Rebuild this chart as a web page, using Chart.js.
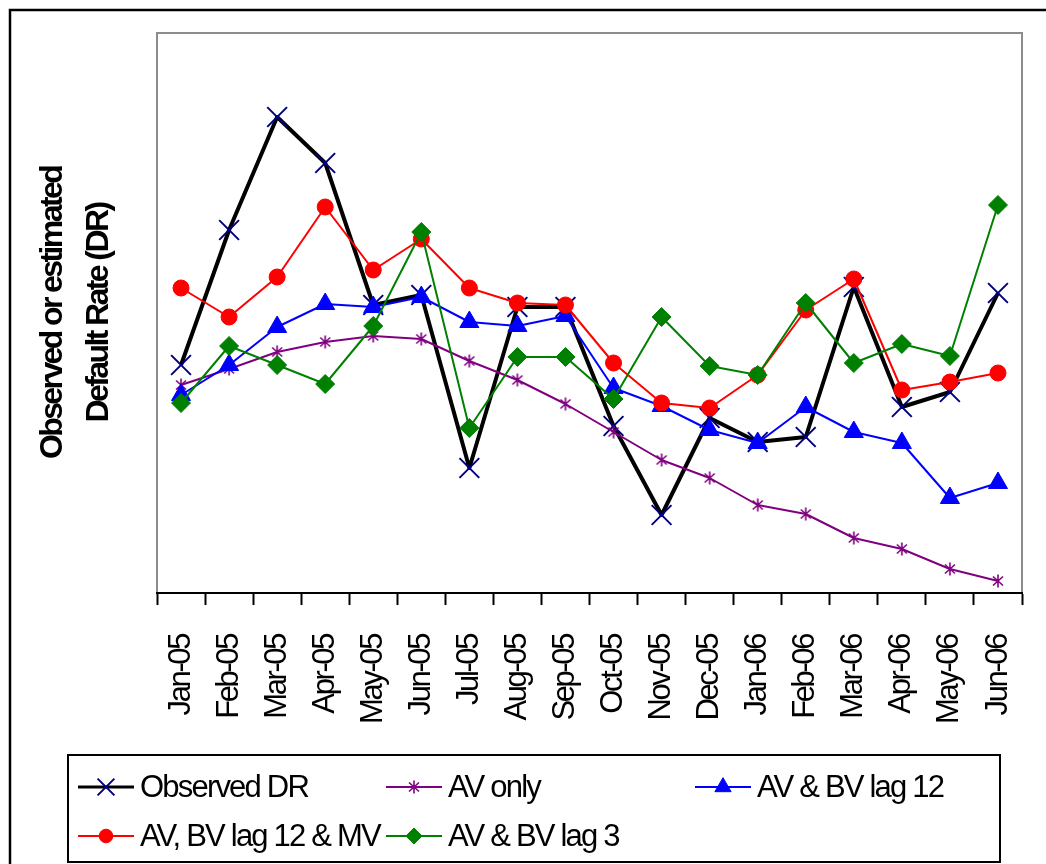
<!DOCTYPE html>
<html>
<head>
<meta charset="utf-8">
<title>Observed and estimated default rate</title>
<script src="https://cdn.jsdelivr.net/npm/chart.js@4"></script>
<style>
  html, body { margin: 0; padding: 0; background: #fff; }
  #wrap { width: 1046px; height: 864px; }
  canvas { display: block; }
</style>
</head>
<body>
<div id="wrap"><canvas id="dr" width="1046" height="864"></canvas></div>
<script>
// Monthly observation dates
const months = ['Jan-05','Feb-05','Mar-05','Apr-05','May-05','Jun-05','Jul-05','Aug-05','Sep-05',
                'Oct-05','Nov-05','Dec-05','Jan-06','Feb-06','Mar-06','Apr-06','May-06','Jun-06'];

// Default rate series (same arbitrary unit; the axis carries no tick labels)
const observedDR  = [1.14, 1.815, 2.38, 2.15, 1.44, 1.49, 0.625, 1.43, 1.43, 0.835, 0.39, 0.875, 0.755, 0.78, 1.53, 0.93, 1.005, 1.50];
const avOnly      = [1.04, 1.12, 1.205, 1.255, 1.285, 1.27, 1.16, 1.065, 0.945, 0.805, 0.665, 0.575, 0.44, 0.395, 0.275, 0.22, 0.12, 0.06];
const avBvLag12   = [0.99, 1.14, 1.33, 1.445, 1.43, 1.48, 1.355, 1.335, 1.385, 1.025, 0.935, 0.815, 0.75, 0.93, 0.805, 0.75, 0.475, 0.55];
const avBvLag12Mv = [1.525, 1.38, 1.58, 1.93, 1.615, 1.77, 1.525, 1.45, 1.44, 1.15, 0.95, 0.925, 1.09, 1.415, 1.57, 1.015, 1.055, 1.10];
const avBvLag3    = [0.95, 1.235, 1.14, 1.045, 1.335, 1.805, 0.825, 1.18, 1.18, 0.97, 1.38, 1.135, 1.09, 1.45, 1.15, 1.245, 1.185, 1.94];

const seriesNames = ['Observed DR', 'AV only', 'AV & BV lag 12', 'AV, BV lag 12 & MV', 'AV & BV lag 3'];
const yTitle = ['Observed or estimated', 'Default Rate (DR)'];
const yMin = 0, yMax = 2.8;

// Tightly set Arial-style type
const FAMILY = '"Liberation Sans", Arial, sans-serif';
const TICK_FONT = { family: FAMILY, size: 31 };
const TICK_SPACING = '-2.4px';
const TITLE_FONT = { family: FAMILY, size: 32, weight: 'bold', lineHeight: 1.44 };
const TITLE_SPACING = '-2.6px';
const LEGEND_FONT = '31px ' + FAMILY;
const LEGEND_SPACING = '-1.8px';

// Run one of a scale's draw steps with a given letter spacing
function spaced(scale, method, spacing) {
  const key = '_spaced_' + method;
  if (scale[key]) return;
  const orig = scale[method];
  scale[method] = function (...args) {
    const ctx = this.ctx;
    const prev = ctx.letterSpacing;
    ctx.letterSpacing = spacing;
    orig.apply(this, args);
    ctx.letterSpacing = prev || '0px';
  };
  scale[key] = true;
}

// Asterisk marker (x with a vertical stroke) for the "AV only" series
function asteriskMarker(color) {
  const cv = document.createElement('canvas');
  cv.width = 14; cv.height = 14;
  const g = cv.getContext('2d');
  g.strokeStyle = color; g.lineWidth = 1.6;
  g.beginPath();
  g.moveTo(2, 2.5); g.lineTo(12, 11.5);
  g.moveTo(12, 2.5); g.lineTo(2, 11.5);
  g.moveTo(7, 0.5); g.lineTo(7, 13.5);
  g.stroke();
  return cv;
}

// White page, outer chart border and grey plot-area frame
const framePlugin = {
  id: 'frame',
  beforeDraw(c) {
    const { ctx, chartArea: a } = c;
    ctx.save();
    ctx.fillStyle = '#fff';
    ctx.fillRect(0, 0, c.width, c.height);
    ctx.strokeStyle = '#000';
    ctx.lineWidth = 2.5;
    ctx.beginPath();
    ctx.moveTo(10, c.height + 4);
    ctx.lineTo(10, 10);
    ctx.lineTo(c.width + 4, 10);
    ctx.stroke();
    ctx.strokeStyle = '#8c8c8c';
    ctx.lineWidth = 2;
    ctx.strokeRect(a.left, a.top, a.right - a.left, a.bottom - a.top);
    ctx.restore();
  }
};

function legendMarker(ctx, ds, x, y, scale) {
  const style = ds.pointStyle;
  ctx.save();
  if (style instanceof HTMLCanvasElement) {
    ctx.drawImage(style, x - style.width / 2, y - style.height / 2);
  } else if (Chart.helpers && Chart.helpers.drawPoint) {
    ctx.fillStyle = ds.pointBackgroundColor;
    ctx.strokeStyle = ds.pointBorderColor;
    ctx.lineWidth = ds.pointBorderWidth;
    Chart.helpers.drawPoint(ctx, { pointStyle: style, rotation: 0, radius: ds.pointRadius * scale, borderWidth: ds.pointBorderWidth }, x, y);
  }
  ctx.restore();
}

// Boxed legend: three columns, two rows
const boxLegend = {
  id: 'boxLegend',
  afterDraw(c) {
    const ctx = c.ctx;
    const box = { left: 68, top: 755, right: 1000, bottom: 862 };
    const cols = [78, 386, 695];
    const rows = [787, 836];
    const lineLen = 56;
    ctx.save();
    ctx.strokeStyle = '#000';
    ctx.lineWidth = 2;
    ctx.strokeRect(box.left, box.top, box.right - box.left, box.bottom - box.top);
    c.data.datasets.forEach((ds, i) => {
      const x0 = cols[i % 3];
      const y = rows[Math.floor(i / 3)];
      ctx.strokeStyle = ds.borderColor;
      ctx.lineWidth = Math.min(ds.borderWidth, 3);
      ctx.beginPath();
      ctx.moveTo(x0, y);
      ctx.lineTo(x0 + lineLen, y);
      ctx.stroke();
      legendMarker(ctx, ds, x0 + lineLen / 2, y, 0.85);
      ctx.save();
      ctx.letterSpacing = LEGEND_SPACING;
      ctx.fillStyle = '#000';
      ctx.font = LEGEND_FONT;
      ctx.textAlign = 'left';
      ctx.textBaseline = 'middle';
      ctx.fillText(ds.label, x0 + lineLen + 6, y + 1);
      ctx.restore();
    });
    ctx.restore();
  }
};

const datasets = [
  { label: seriesNames[0], data: observedDR, borderColor: '#000000', borderWidth: 4,
    pointStyle: 'crossRot', pointRadius: 14, pointBorderColor: '#000080', pointBackgroundColor: '#000080',
    pointBorderWidth: 2, order: 5 },
  { label: seriesNames[1], data: avOnly, borderColor: '#800080', borderWidth: 2,
    pointStyle: asteriskMarker('#800080'), pointRadius: 7, pointBorderColor: '#800080', pointBackgroundColor: '#800080',
    pointBorderWidth: 1.5, order: 4 },
  { label: seriesNames[2], data: avBvLag12, borderColor: '#0000ff', borderWidth: 2,
    pointStyle: 'triangle', pointRadius: 11, pointBorderColor: '#0000ff', pointBackgroundColor: '#0000ff',
    pointBorderWidth: 1, order: 3 },
  { label: seriesNames[3], data: avBvLag12Mv, borderColor: '#ff0000', borderWidth: 2,
    pointStyle: 'circle', pointRadius: 8, pointBorderColor: '#ff0000', pointBackgroundColor: '#ff0000',
    pointBorderWidth: 1, order: 2 },
  { label: seriesNames[4], data: avBvLag3, borderColor: '#008000', borderWidth: 2,
    pointStyle: 'rectRot', pointRadius: 9.5, pointBorderColor: '#008000', pointBackgroundColor: '#008000',
    pointBorderWidth: 1, order: 1 }
].map(ds => Object.assign({ tension: 0, fill: false, borderJoinStyle: 'round', pointHoverRadius: ds.pointRadius }, ds));

new Chart(document.getElementById('dr'), {
  type: 'line',
  data: { labels: months, datasets },
  options: {
    responsive: false,
    animation: false,
    devicePixelRatio: 1,
    events: [],
    layout: { padding: { left: 0, top: 33, right: 24, bottom: 121 } },
    plugins: { legend: { display: false }, tooltip: { enabled: false } },
    scales: {
      x: {
        offset: true,
        grid: { offset: true, drawOnChartArea: false, drawTicks: true, tickLength: 12,
                tickWidth: 2, tickColor: '#000', color: '#000' },
        border: { display: true, color: '#000', width: 2 },
        ticks: { autoSkip: false, minRotation: 90, maxRotation: 90, padding: 30, color: '#000', font: TICK_FONT },
        afterFit(s) {
          s.height = 150;
          s.paddingLeft = 0;
          s.paddingRight = 0;
          spaced(s, 'drawLabels', TICK_SPACING);
        }
      },
      y: {
        min: yMin, max: yMax,
        ticks: { display: false },
        grid: { display: false },
        border: { display: false },
        title: { display: true, text: yTitle, color: '#000', font: TITLE_FONT, padding: { top: 30, bottom: 0 } },
        afterFit(s) {
          s.width = 157;
          s.paddingTop = 0;
          s.paddingBottom = 0;
          spaced(s, 'drawTitle', TITLE_SPACING);
        }
      }
    }
  },
  plugins: [framePlugin, boxLegend]
});
</script>
</body>
</html>
